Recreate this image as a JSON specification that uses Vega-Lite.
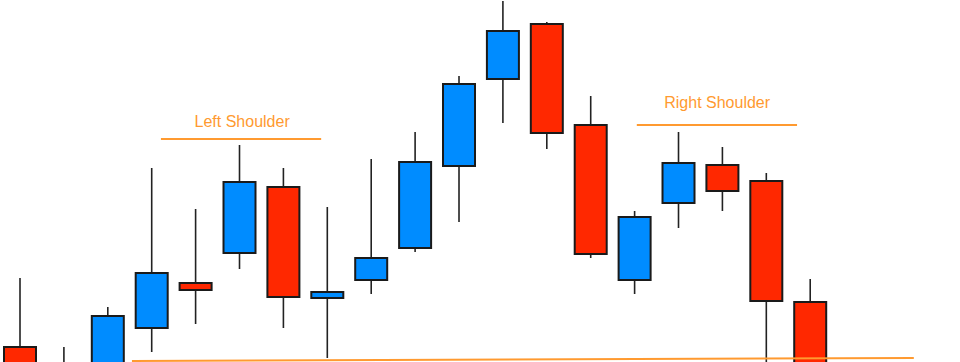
{
  "$schema": "https://vega.github.io/schema/vega-lite/v6.json",
  "width": 960,
  "height": 362,
  "autosize": {"type": "none"},
  "padding": 0,
  "background": "white",
  "config": {"view": {"stroke": null}},
  "datasets": {
    "candles": [
      {"i": 0, "open": 15, "high": 84, "low": -28, "close": -18},
      {"i": 1, "open": -8, "high": 15, "low": -40, "close": -30},
      {"i": 2, "open": -10, "high": 55, "low": -20, "close": 46},
      {"i": 3, "open": 34, "high": 194, "low": 10, "close": 89},
      {"i": 4, "open": 79, "high": 153, "low": 38, "close": 72},
      {"i": 5, "open": 109, "high": 217, "low": 93, "close": 180},
      {"i": 6, "open": 175, "high": 194, "low": 34, "close": 65},
      {"i": 7, "open": 64, "high": 155, "low": 4, "close": 70},
      {"i": 8, "open": 82, "high": 203, "low": 68, "close": 104},
      {"i": 9, "open": 114, "high": 230, "low": 110, "close": 200},
      {"i": 10, "open": 196, "high": 286, "low": 140, "close": 278},
      {"i": 11, "open": 283, "high": 361, "low": 239, "close": 331},
      {"i": 12, "open": 338, "high": 340, "low": 213, "close": 229},
      {"i": 13, "open": 237, "high": 266, "low": 104, "close": 108},
      {"i": 14, "open": 82, "high": 151, "low": 68, "close": 145},
      {"i": 15, "open": 159, "high": 230, "low": 134, "close": 199},
      {"i": 16, "open": 197, "high": 215, "low": 151, "close": 171},
      {"i": 17, "open": 181, "high": 189, "low": -20, "close": 61},
      {"i": 18, "open": 60, "high": 83, "low": -25, "close": -15}
    ],
    "lines": [
      {"name": "Neckline", "x": 2.55, "x2": 20.36, "y": 1, "y2": 4},
      {"name": "Left Shoulder", "x": 3.21, "x2": 6.86, "y": 223, "y2": 223},
      {"name": "Right Shoulder", "x": 14.05, "x2": 17.7, "y": 237, "y2": 237}
    ],
    "labels": [
      {"label": "Left Shoulder", "x": 5.06, "y": 235},
      {"label": "Right Shoulder", "x": 15.88, "y": 254}
    ]
  },
  "layer": [
    {
      "data": {"name": "candles"},
      "mark": {"type": "rule", "stroke": "#222222", "strokeWidth": 1.6, "clip": true},
      "encoding": {
        "x": {"field": "i", "type": "quantitative", "scale": {"domain": [-0.4556, 21.412], "nice": false, "zero": false, "padding": 0}, "axis": null},
        "y": {"field": "low", "type": "quantitative", "scale": {"domain": [0, 362], "nice": false, "zero": false, "padding": 0}, "axis": null},
        "y2": {"field": "high"}
      }
    },
    {
      "data": {"name": "candles"},
      "mark": {"type": "bar", "orient": "vertical", "width": 32, "stroke": "#1a1a1a", "strokeWidth": 2, "clip": true},
      "encoding": {
        "x": {"field": "i", "type": "quantitative", "scale": {"domain": [-0.4556, 21.412], "nice": false, "zero": false, "padding": 0}, "axis": null},
        "y": {"field": "open", "type": "quantitative", "scale": {"domain": [0, 362], "nice": false, "zero": false, "padding": 0}, "axis": null},
        "y2": {"field": "close"},
        "fill": {"condition": {"test": "datum.close > datum.open", "value": "#008CFF"}, "value": "#FF2800"}
      }
    },
    {
      "data": {"name": "lines"},
      "mark": {"type": "rule", "stroke": "#FF9A30", "strokeWidth": 2, "clip": true},
      "encoding": {
        "x": {"field": "x", "type": "quantitative", "scale": {"domain": [-0.4556, 21.412], "nice": false, "zero": false, "padding": 0}, "axis": null},
        "x2": {"field": "x2"},
        "y": {"field": "y", "type": "quantitative", "scale": {"domain": [0, 362], "nice": false, "zero": false, "padding": 0}, "axis": null},
        "y2": {"field": "y2"}
      }
    },
    {
      "data": {"name": "labels"},
      "mark": {"type": "text", "align": "center", "baseline": "alphabetic", "font": "Liberation Sans", "fontSize": 16, "color": "#FF9A30"},
      "encoding": {
        "x": {"field": "x", "type": "quantitative", "scale": {"domain": [-0.4556, 21.412], "nice": false, "zero": false, "padding": 0}, "axis": null},
        "y": {"field": "y", "type": "quantitative", "scale": {"domain": [0, 362], "nice": false, "zero": false, "padding": 0}, "axis": null},
        "text": {"field": "label"}
      }
    }
  ]
}
